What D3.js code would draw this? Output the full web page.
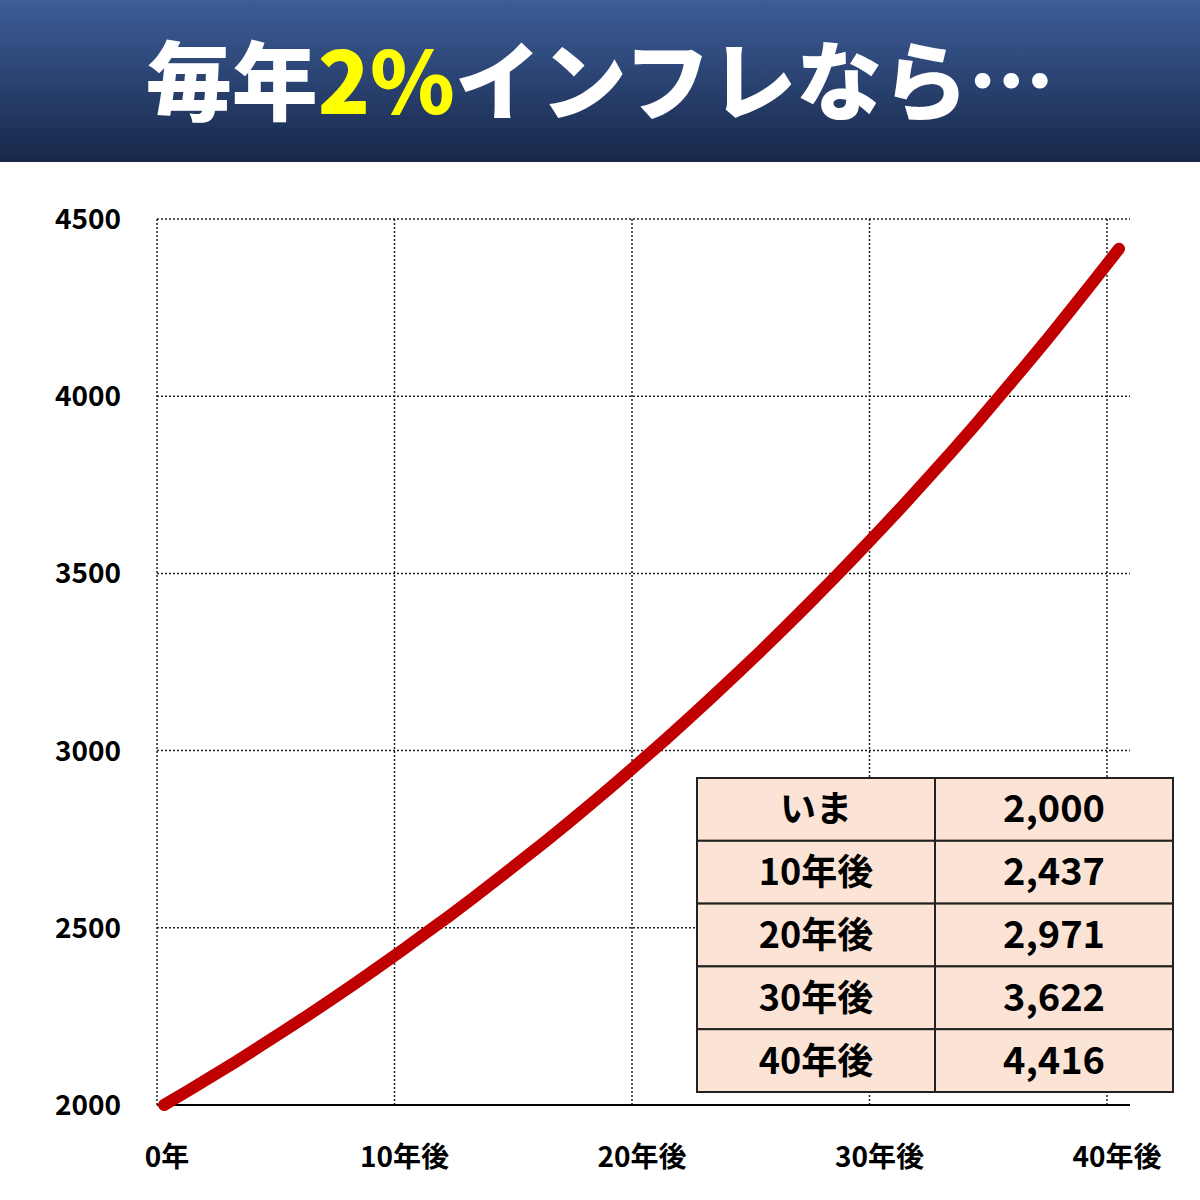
<!DOCTYPE html>
<html><head><meta charset="utf-8">
<script src="https://cdn.jsdelivr.net/npm/d3@7"></script>
<style>body{margin:0;background:#fff}</style></head>
<body><svg id="c" width="1200" height="1200"></svg>
<script>
const years = d3.range(0,41);
const values = [2000,2040,2081,2122,2165,2208,2252,2297,2343,2390,2438,2487,2536,2587,2639,2692,2745,2800,2856,2913,2972,3031,3092,3154,3217,3281,3347,3414,3482,3552,3623,3695,3769,3844,3921,4000,4080,4161,4245,4330,4416];
const yTicks = [2000,2500,3000,3500,4000,4500];
const xTicks = [0,10,20,30,40];
const xTickLabels = ["0年","10年後","20年後","30年後","40年後"];
const tableLabels = ["いま","10年後","20年後","30年後","40年後"];
const tableValues = ["2,000","2,437","2,971","3,622","4,416"];

const svg = d3.select("#c");
const font = "'Noto Sans CJK JP','Noto Sans',sans-serif";
const defs = svg.append("defs");
const g = defs.append("linearGradient").attr("id","hg").attr("x1",0).attr("y1",0).attr("x2",0).attr("y2",1);
g.append("stop").attr("offset","0").attr("stop-color","#3d5d98");
g.append("stop").attr("offset","1").attr("stop-color","#17284a");
svg.append("rect").attr("width",1200).attr("height",162).attr("fill","url(#hg)");
const t = svg.append("text").attr("x",600).attr("y",114).attr("text-anchor","middle")
  .attr("font-family",font).attr("font-weight",900).attr("font-size",86).attr("fill","#fff");
t.append("tspan").text("毎年");
t.append("tspan").attr("fill","#ffff00").text("2%");
t.append("tspan").text("インフレなら…");

const x = d3.scaleLinear().domain([0,40]).range([157,1107]);
const xl = d3.scaleLinear().domain([0,40]).range([164,1119]);
const y = d3.scaleLinear().domain([2000,4500]).range([1105,219]);
const right = 1130;

svg.append("g").selectAll("line").data(yTicks.slice(1)).join("line")
  .attr("x1",157).attr("x2",right).attr("y1",d=>y(d)).attr("y2",d=>y(d))
  .attr("stroke","#222").attr("stroke-width",1.5).attr("stroke-dasharray","2,2");
svg.append("g").selectAll("line").data(xTicks).join("line")
  .attr("x1",d=>x(d)).attr("x2",d=>x(d)).attr("y1",219).attr("y2",1105)
  .attr("stroke","#222").attr("stroke-width",1.5).attr("stroke-dasharray","2,2");
svg.append("line").attr("x1",157).attr("x2",right).attr("y1",1105).attr("y2",1105).attr("stroke","#000").attr("stroke-width",2);

svg.append("g").selectAll("text").data(yTicks).join("text")
  .attr("x",121).attr("y",d=>y(d)+10).attr("text-anchor","end")
  .attr("font-family",font).attr("font-weight",700).attr("font-size",28).text(d=>d);
svg.append("g").selectAll("text").data(xTicks).join("text")
  .attr("x",d=>x(d)+10).attr("y",1167).attr("text-anchor","middle")
  .attr("font-family",font).attr("font-weight",700).attr("font-size",28).text((d,i)=>xTickLabels[i]);

svg.append("path").datum(values).attr("fill","none").attr("stroke","#c00000")
  .attr("stroke-width",12).attr("stroke-linecap","round").attr("stroke-linejoin","round")
  .attr("d",d3.line().x((d,i)=>xl(years[i])).y(d=>y(d)));

const tx=697, tw=476, ty=778, rh=62.8, c1=238;
const tg = svg.append("g");
tableLabels.forEach((l,i)=>{
  const yy = ty+i*rh;
  tg.append("rect").attr("x",tx).attr("y",yy).attr("width",c1).attr("height",rh).attr("fill","#fbe4d5").attr("stroke","#222").attr("stroke-width",2);
  tg.append("rect").attr("x",tx+c1).attr("y",yy).attr("width",tw-c1).attr("height",rh).attr("fill","#fbe4d5").attr("stroke","#222").attr("stroke-width",2);
  tg.append("text").attr("x",tx+c1/2).attr("y",yy+rh/2+13).attr("text-anchor","middle")
    .attr("font-family",font).attr("font-weight",700).attr("font-size",36).text(l);
  tg.append("text").attr("x",tx+c1+(tw-c1)/2).attr("y",yy+rh/2+13).attr("text-anchor","middle")
    .attr("font-family",font).attr("font-weight",700).attr("font-size",38).text(tableValues[i]);
});
</script></body></html>
